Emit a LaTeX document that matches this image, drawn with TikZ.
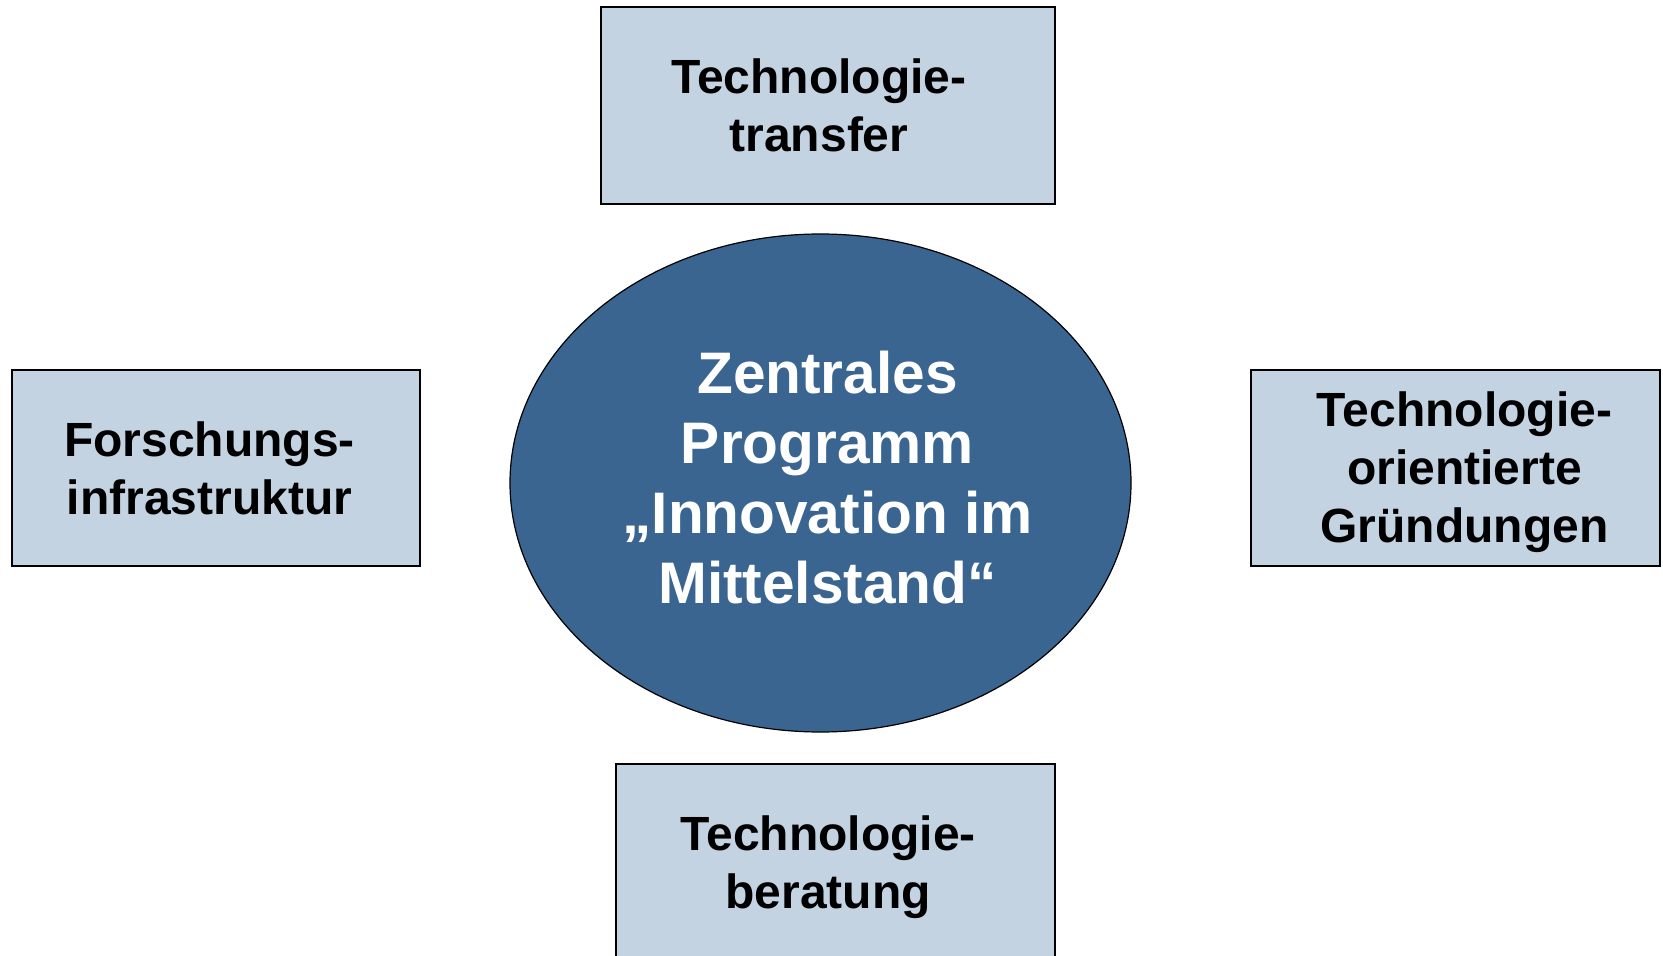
\documentclass[tikz,border=0pt]{standalone}
\usepackage{fontspec}
\setmainfont{Liberation Sans}
\definecolor{boxfill}{RGB}{195,211,226}
\definecolor{ovalfill}{RGB}{58,101,145}
\usetikzlibrary{shapes.geometric}
\tikzset{
  feld/.style={draw, line width=0.8pt, fill=boxfill, rectangle},
  feldtext/.style={align=center, inner sep=0pt, font=\fontsize{24}{29}\selectfont\bfseries},
  kern/.style={draw, line width=0.6pt, fill=ovalfill, ellipse, inner sep=0pt},
  kerntext/.style={text=white, align=center, inner sep=0pt, font=\fontsize{29.3}{35}\selectfont\bfseries}
}
\begin{document}
\begin{tikzpicture}[x=0.5pt, y=-0.5pt]
\useasboundingbox (0,0) rectangle (1663,956);
\node[kern, minimum width=310.5pt, minimum height=249pt,
  label={[kerntext, xshift=3.5pt, yshift=2.7pt]center:Zentrales\\Programm\\„Innovation im\\Mittelstand“}](Z) at (820.5, 483) {};
\node[feld, minimum width=227pt, minimum height=98.5pt,
  label={[feldtext, xshift=-4.5pt]center:Technologie-\\transfer}](T) at (828, 105.5) {};
\node[feld, minimum width=204pt, minimum height=98pt,
  label={[feldtext, xshift=-3.2pt]center:Forschungs-\\infrastruktur}](F) at (216, 468) {};
\node[feld, minimum width=204.5pt, minimum height=98pt,
  label={[feldtext, xshift=4.5pt, yshift=-2.2pt]center:Technologie-\\orientierte\\Gründungen}](G) at (1455.5, 468) {};
\node[feld, minimum width=219.5pt, minimum height=103pt,
  label={[feldtext, xshift=-3.7pt]center:Technologie-\\beratung}](B) at (835.5, 867) {};
\end{tikzpicture}
\end{document}
